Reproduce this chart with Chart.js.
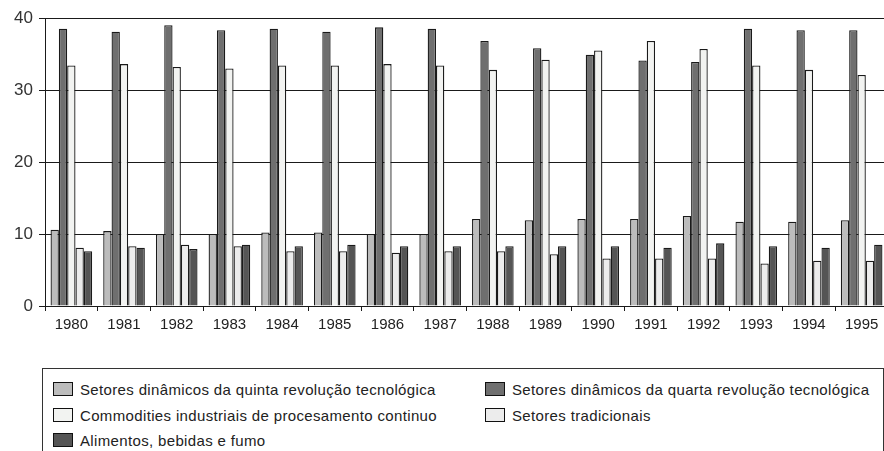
<!DOCTYPE html>
<html>
<head>
<meta charset="utf-8">
<script src="https://cdn.jsdelivr.net/npm/chart.js@4/dist/chart.umd.min.js"></script>
<style>
  html, body { margin: 0; padding: 0; background: #fff; }
  #wrap { position: relative; width: 884px; height: 451px; overflow: hidden; }
  #chartBox { position: absolute; left: 0; top: 0; width: 888px; height: 340px; }
  #legend {
    position: absolute; left: 42px; top: 368px; width: 842px; height: 100px;
    border: 1px solid #333; box-sizing: border-box;
    font-family: "Liberation Sans", Arial, sans-serif;
    font-size: 15px; letter-spacing: 0.35px; color: #222;
  }
  .item { position: absolute; display: flex; align-items: center; white-space: nowrap; height: 16px; }
  .swatch { width: 20px; height: 14px; border: 1.5px solid #111; box-sizing: border-box; margin-right: 7px; }
</style>
</head>
<body>
<div id="wrap">
  <div id="chartBox"><canvas id="chart"></canvas></div>
  <div id="legend"></div>
</div>
<script>
// Shares by sector group, 1980-1995
const years = ['1980', '1981', '1982', '1983', '1984', '1985', '1986', '1987',
  '1988', '1989', '1990', '1991', '1992', '1993', '1994', '1995'];

const seriesNames = [
  'Setores dinâmicos da quinta revolução tecnológica',
  'Setores dinâmicos da quarta revolução tecnológica',
  'Commodities industriais de procesamento continuo',
  'Setores tradicionais',
  'Alimentos, bebidas e fumo'
];

const quinta = [10.6, 10.4, 10.0, 10.0, 10.2, 10.2, 10.0, 10.0, 12.1, 11.9, 12.1, 12.1, 12.5, 11.7, 11.7, 11.9];
const quarta = [38.5, 38.1, 39.0, 38.3, 38.5, 38.1, 38.7, 38.5, 36.8, 35.8, 34.9, 34.1, 33.9, 38.5, 38.3, 38.3];
const commodities = [33.4, 33.6, 33.2, 33.0, 33.4, 33.4, 33.6, 33.4, 32.8, 34.2, 35.5, 36.8, 35.7, 33.4, 32.8, 32.1];
const tradicionais = [8.1, 8.3, 8.5, 8.3, 7.6, 7.6, 7.4, 7.6, 7.6, 7.2, 6.6, 6.6, 6.6, 5.9, 6.3, 6.3];
const alimentos = [7.6, 8.1, 7.9, 8.5, 8.3, 8.5, 8.3, 8.3, 8.3, 8.3, 8.3, 8.1, 8.7, 8.3, 8.1, 8.5];

const yTicks = [0, 10, 20, 30, 40];

const fills = ['#bcbcbc', '#6f6f6f', '#f2f3f1', '#ececec', '#555555'];
const INK = '#1a1a1a';

const seriesData = [quinta, quarta, commodities, tradicionais, alimentos];

const datasets = seriesData.map(function (vals, i) {
  return {
    label: seriesNames[i],
    data: vals,
    backgroundColor: fills[i],
    borderColor: INK,
    borderWidth: 1.3,
    borderSkipped: 'bottom',
    categoryPercentage: 0.79,
    barPercentage: 1.0
  };
});

const chart = new Chart(document.getElementById('chart'), {
  type: 'bar',
  data: { labels: years, datasets: datasets },
  options: {
    responsive: true,
    maintainAspectRatio: false,
    animation: false,
    layout: { padding: { top: 18, right: 0, bottom: 0, left: 0 } },
    plugins: { legend: { display: false }, tooltip: { enabled: false } },
    scales: {
      x: {
        offset: true,
        grid: { offset: true, drawOnChartArea: false, drawTicks: true, tickLength: 5, color: INK },
        border: { display: true, color: INK, width: 1 },
        ticks: { color: '#222', font: { family: 'Liberation Sans, Arial', size: 15 }, padding: 5, maxRotation: 0 },
        afterFit: function (s) { s.height = 34; }
      },
      y: {
        min: 0, max: 40,
        afterBuildTicks: function (s) { s.ticks = yTicks.map(function (v) { return { value: v }; }); },
        grid: { color: INK, lineWidth: 1, drawTicks: true, tickLength: 6 },
        border: { display: true, color: INK, width: 1 },
        ticks: { color: '#333', font: { family: 'Liberation Sans, Arial', size: 17 }, padding: 6 },
        afterFit: function (s) { s.width = 45; }
      }
    }
  }
});

// HTML legend, two columns, row-major like the original
const legend = document.getElementById('legend');
const colX = [10, 442];
const rowY = [20, 46, 71];
seriesNames.forEach(function (name, i) {
  const el = document.createElement('div');
  el.className = 'item';
  el.style.left = colX[i % 2] + 'px';
  el.style.top = (rowY[Math.floor(i / 2)] - 8) + 'px';
  el.innerHTML = '<span class="swatch" style="background:' + fills[i] + '"></span><span>' + name + '</span>';
  legend.appendChild(el);
});
</script>
</body>
</html>
